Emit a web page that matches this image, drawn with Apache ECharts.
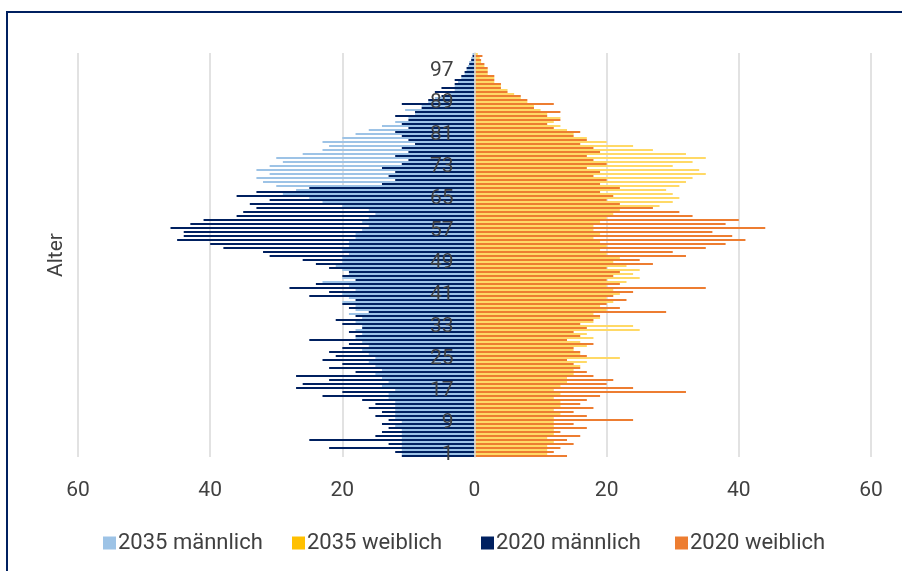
<!DOCTYPE html>
<html>
<head>
<meta charset="utf-8">
<script src="https://cdn.jsdelivr.net/npm/echarts@6/dist/echarts.min.js"></script>
<style>
html,body{margin:0;padding:0;background:#fff;}
#chart{width:902px;height:571px;}
</style>
</head>
<body>
<div id="chart"></div>
<script>
// Age categories (Excel auto-numbered 1..101)
const ages = [];
for (let a = 1; a <= 101; a++) ages.push(String(a));

const xTicks = [-60, -40, -20, 0, 20, 40, 60];

// values listed from the youngest (label 1, bottom) to the oldest (top)
const male2035 = [11,11,11,11,11,11,11,12,11,12,12, 12,12,12,13,13,12,14,13,14,15, 14,15,16,15,16,17,16,17,18,17, 18,17,18,17,19,18,18,20,19,20, 18,19,23,20,19,20,21,20,20,19, 20,19,19,18,18,17,16,17,16,15, 16,20,23,25,29,27,30,32,33,31, 33,31,29,30,26,23,22,23,20,18, 16,14,12,10,9,10.5,8,7,6,4, 3,3,2.5,2,1.5,1.2,1,0.8,0.5,0.3];
const female2035 = [11,11,11,12,11,12,12,12,12,12,13, 12,13,13,12,13,12,13,14,14,15, 15,16,17,22,16,15,17,16,18,17, 25,24,18,19,18,20,19,21,20,22, 21,20,23,25,24,25,23,21,22,20, 19,20,19,18,19,18,18,19,20,21, 22,28,30,31,30,29,31,32,33,35, 34,30,33,35,32,27,24,20,17,15, 14,13,12,13,11,10,9,8,7,6, 5,4,3,3,2,2,1.5,1,0.8,0.5];
const male2020 = [11,12,22,13,25,15,14,13,14,13,15, 14,16,15,17,23,20,27,26,22,27, 18,22,20,23,21,22,20,19,25,18, 19,17,20,21,18,16,19,20,18,25, 22,28,24,18,20,19,22,24,26,31, 32,38,40,45,44,44,46,43,41,36, 35,33,34,31,36,33,25,14,12,13, 12,14,11,10,12,10,11,9,10,11, 12,10,11,10,12,9,8,11,7,5, 6,5,3,3,2,1.5,1.2,0.8,0.5,0.3];
const female2020 = [14,12,13,15,14,16,13,17,15,24,17, 15,18,16,17,19,32,24,20,21,18, 17,16,15,14,17,16,15,18,14,16, 15,17,16,18,19,29,22,20,23,21, 24,35,22,20,21,22,20,27,25,32, 30,35,38,41,39,36,44,38,40,33, 31,27,22,20,21,19,22,19,20,18, 19,17,20,18,17,19,18,16,17,15, 16,12,11,13,11,13,9,12,8,7, 5,4,4,3,3,2,2,1.5,1,1.2];

const seriesNames = ['2035 männlich', '2035 weiblich', '2020 männlich', '2020 weiblich'];
const legendColors = ['#9DC3E6', '#FFC000', '#002060', '#ED7D31'];
const barColors = ['#9DC3E6', '#FFD966', '#002060', '#ED7D31'];
const legendLeft = [98, 287, 476, 670];

const FONT = 'Roboto, "Liberation Sans", sans-serif';
const TXT = '#404040';

const W = 902, GL = 78, GR = 31;
const plotW = W - GL - GR;

const legends = seriesNames.map((n, k) => ({
  data: [{name: n, itemStyle: {color: legendColors[k]}}],
  left: legendLeft[k], top: 527,
  icon: 'rect', itemWidth: 13, itemHeight: 13,
  textStyle: {fontSize: 22, color: TXT, fontFamily: FONT, padding: [0, 0, 0, -3]}
}));

const allData = [male2035, female2035, male2020, female2020];
const stacks = ['s35', 's35', 's20', 's20'];

const chart = echarts.init(document.getElementById('chart'), null, {renderer: 'canvas'});
chart.setOption({
  animation: false,
  backgroundColor: '#ffffff',
  textStyle: {fontFamily: FONT},
  graphic: [
    {type: 'rect', shape: {x: 7, y: 12, width: 1200, height: 1200}, style: {fill: 'none', stroke: '#002060', lineWidth: 2}, silent: true},
    {type: 'text', x: 57, y: 255, rotation: Math.PI / 2, style: {text: 'Alter', fill: TXT, font: '21px ' + FONT, align: 'center', verticalAlign: 'middle'}}
  ],
  legend: legends,
  grid: {left: GL, right: GR, top: 53, bottom: 114, containLabel: false},
  xAxis: {
    type: 'value', min: xTicks[0], max: xTicks[xTicks.length - 1], interval: 20,
    axisLine: {show: false}, axisTick: {show: false},
    axisLabel: {formatter: v => String(Math.abs(v)), fontSize: 21, color: TXT, margin: 23, fontFamily: FONT},
    splitLine: {lineStyle: {color: '#D9D9D9', width: 1.5}}
  },
  yAxis: {
    type: 'category', data: ages, z: 10, position: 'left', offset: -plotW / 2,
    axisLine: {onZero: false, lineStyle: {color: '#D9D9D9', width: 1.5}},
    axisTick: {show: false},
    axisLabel: {interval: 7, fontSize: 21, color: TXT, margin: 21, fontFamily: FONT, padding: [4, 0, 0, 0]}
  },
  series: seriesNames.map((n, k) => ({
    name: n, type: 'bar', stack: stacks[k],
    data: allData[k].map(v => (k % 2 === 0 ? -v : v)),
    itemStyle: {color: barColors[k]}, barGap: '0%', barCategoryGap: '0%'
  }))
});
</script>
</body>
</html>
